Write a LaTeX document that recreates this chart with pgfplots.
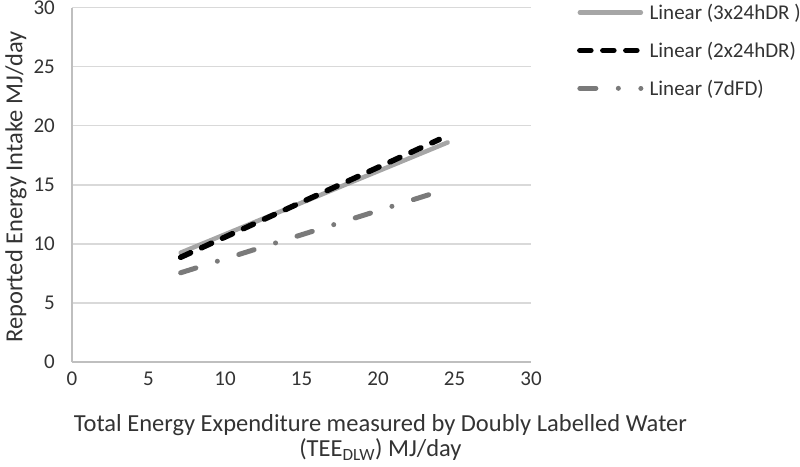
\documentclass[border=0pt]{standalone}
\usepackage{pgfplots}
\pgfplotsset{compat=1.18}
\usepackage{fontspec}
\setmainfont{Carlito}
\definecolor{lgray}{HTML}{A6A6A6}
\definecolor{dgray}{HTML}{7A7A7A}
\definecolor{gridc}{HTML}{D9D9D9}
\definecolor{axc}{HTML}{BFBFBF}
\definecolor{txt}{HTML}{333333}
\begin{document}
\begin{tikzpicture}
\begin{axis}[
  scale only axis,
  width=459pt, height=354.5pt,
  xmin=0, xmax=30, ymin=0, ymax=30,
  xtick={0,5,...,30}, ytick={0,5,...,30},
  axis lines*=left,
  axis line style={-, color=axc, line width=1.6pt},
  ymajorgrids,
  grid style={color=gridc, line width=1.6pt},
  major tick length=0pt,
  tick label style={font=\fontsize{21}{25}\selectfont, text=txt, inner sep=0pt},
  xticklabel style={anchor=north, yshift=-10pt},
  yticklabel style={anchor=east, xshift=-17pt},
  /pgf/number format/assume math mode=true,
  xlabel={Total Energy Expenditure measured by Doubly Labelled Water\\(TEE\textsubscript{DLW}) MJ/day},
  xlabel style={at={(axis description cs:0.672,0)}, anchor=north, yshift=-52pt, align=center, inner sep=0pt, font=\fontsize{24.5}{25.5}\selectfont, text=txt},
  ylabel={Reported Energy Intake MJ/day},
  ylabel style={at={(axis description cs:-0.122,0.494)}, anchor=center, inner sep=0pt, font=\fontsize{24.5}{26}\selectfont, text=txt},
  legend style={draw=none, fill=none, at={(axis description cs:1.1,1.01)}, anchor=north west,
    font=\fontsize{21}{25}\selectfont, text=txt, row sep=21pt, column sep=6pt, inner sep=0pt,
    nodes={inner sep=0pt, anchor=west}},
  legend cell align=left,
  legend image code/.code={\draw[#1] (2.5pt,0pt) -- (63.5pt,0pt);},
]
\addplot[color=lgray, line width=4.5pt, line cap=round] coordinates {(7.1,9.25) (24.55,18.58)};
\addlegendentry{Linear (3x24hDR )}
\addplot[color=black, line width=5.5pt, line cap=round, dash pattern=on 11pt off 12pt] coordinates {(7.1,8.86) (24.0,18.83)};
\addlegendentry{Linear (2x24hDR)}
\addplot[color=dgray, line width=5pt, line cap=round, dash pattern=on 16pt off 22.5pt on 0pt off 22.5pt] coordinates {(7.1,7.55) (23.8,14.35)};
\addlegendentry{Linear (7dFD)}
\end{axis}
\pgfresetboundingbox
\path (-72pt,-104pt) rectangle (728pt,362pt);
\end{tikzpicture}
\end{document}
